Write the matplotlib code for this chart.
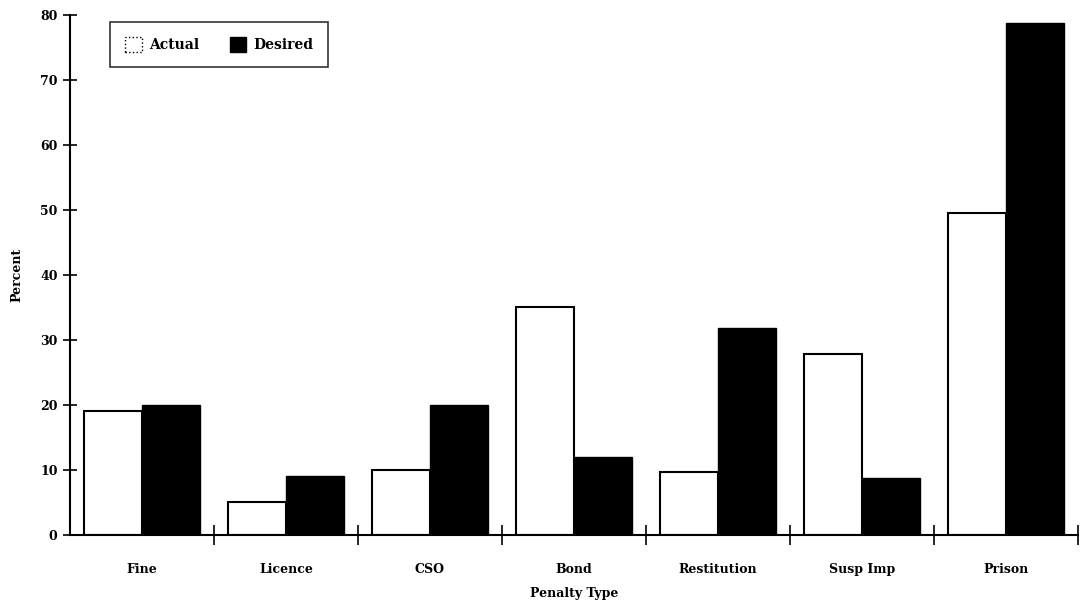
import numpy as np
import matplotlib
matplotlib.use("Agg")
import matplotlib.pyplot as plt
from matplotlib.patches import Patch

penalty_types = ["Fine", "Licence", "CSO", "Bond", "Restitution", "Susp Imp", "Prison"]
actual = [19, 5, 10, 35, 9.7, 27.8, 49.5]
desired = [20, 9, 20, 12, 31.8, 8.7, 78.7]
y_ticks = [0, 10, 20, 30, 40, 50, 60, 70, 80]

plt.rcParams["font.family"] = "DejaVu Serif"
plt.rcParams["font.weight"] = "bold"

fig = plt.figure(figsize=(10.87, 6.06), dpi=100)
ax = fig.add_axes([0.0644, 0.1172, 0.9273, 0.858])

x = np.arange(len(penalty_types)) + 0.5
w = 0.4
ax.bar(x - w / 2, actual, w, color="white", edgecolor="black", linewidth=1.5)
ax.bar(x + w / 2, desired, w, color="black", edgecolor="black", linewidth=1.0)

ax.set_xlim(0, len(penalty_types))
ax.set_ylim(0, 80)

for s in ["top", "right"]:
    ax.spines[s].set_visible(False)
ax.spines["left"].set_linewidth(1.5)
ax.spines["bottom"].set_linewidth(1.5)

ax.set_yticks(y_ticks)
ax.tick_params(axis="y", direction="inout", length=10, width=1.2, labelsize=9, pad=4)

# category labels at centres, tick marks at category boundaries
ax.set_xticks(x)
ax.set_xticklabels(penalty_types)
ax.tick_params(axis="x", which="major", length=0, labelsize=9, pad=20)
ax.set_xticks(np.arange(1, len(penalty_types) + 1), minor=True)
ax.tick_params(axis="x", which="minor", direction="inout", length=14, width=1.2)

for lbl in ax.get_xticklabels() + ax.get_yticklabels():
    lbl.set_fontweight("bold")

ax.set_xlabel("Penalty Type", fontsize=9, fontweight="bold", labelpad=8)
ax.set_ylabel("Percent", fontsize=9, fontweight="bold", labelpad=12)

handles = [Patch(facecolor="white", edgecolor="black", linestyle=":", label="Actual"),
           Patch(facecolor="black", edgecolor="black", label="Desired")]
leg = ax.legend(handles=handles, loc="upper left", bbox_to_anchor=(0.0397, 0.9865),
                ncol=2, frameon=True, fancybox=False,
                handlelength=1.2, handleheight=1.2, columnspacing=2.2,
                borderpad=1.1, handletextpad=0.5, borderaxespad=0,
                prop={"weight": "bold", "size": 10})
leg.get_frame().set_edgecolor("black")
leg.get_frame().set_linewidth(1.2)

fig.savefig("out.png", dpi=100)
